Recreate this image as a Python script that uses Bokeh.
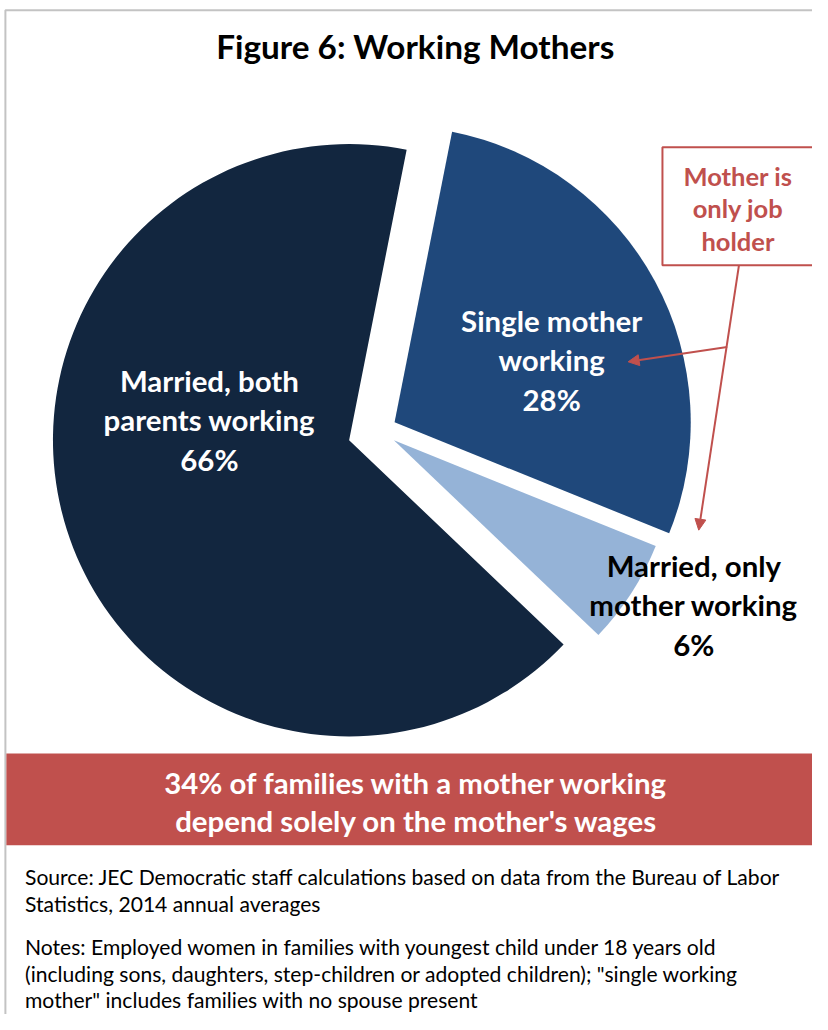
import numpy as np
from bokeh.plotting import figure
from bokeh.models import Range1d, Arrow, NormalHead
from bokeh.embed import file_html
from bokeh.resources import INLINE
from bokeh.core.properties import value

# ---------------- data ----------------
categories = ["Single mother working", "Married, only mother working", "Married, both parents working"]
shares = [28, 6, 66]
label_lines = [["Single mother", "working", "28%"],
               ["Married, only", "mother working", "6%"],
               ["Married, both", "parents working", "66%"]]
title_text = "Figure 6: Working Mothers"
callout_lines = ["Mother is", "only job", "holder"]
banner_lines = ["34% of families with a mother working", "depend solely on the mother's wages"]
note_lines = ["Source: JEC Democratic staff calculations based on data from the Bureau of Labor",
              "Statistics, 2014 annual averages",
              "Notes: Employed women in families with youngest child under 18 years old",
              "(including sons, daughters, step-children or adopted children); \"single working",
              "mother\" includes families with no spouse present"]

# ---------------- styles / layout ----------------
W, H = 812, 1014
REF_W, REF_H = 828, 1030
SX, SY = W / REF_W, H / REF_H
FONT = "Lato"
slice_colors = ["#1f487b", "#95b3d7", "#12263f"]
label_colors = ["#ffffff", "#000000", "#ffffff"]
RED = "#c0504d"
rotation = 11.2          # start angle of first slice, clockwise from 12 o'clock
center_img = (386, 437)
explode = [18, 18, 32]
radii = [302, 288, 302]
label_centers = [(562, 365), (707, 614), (213, 426)]
label_step = 40


def X(xi):
    return xi * SX


def Y(yi):
    return H - yi * SY


def fs(px):
    return "%.1fpx" % (px * SX)


p = figure(width=W, height=H, output_backend="svg", toolbar_location=None,
           x_range=Range1d(0, W), y_range=Range1d(0, H), min_border=0)
p.axis.visible = False
p.grid.visible = False
p.outline_line_color = None
p.background_fill_color = "white"
p.border_fill_color = "white"

# frame
p.line([X(5), X(5), X(840)], [Y(1040), Y(10), Y(10)], line_color="#c3c3c3", line_width=2)

# pie
total = float(sum(shares))
cum = np.cumsum([0] + shares)
for i, s in enumerate(shares):
    t1 = rotation + 360.0 * cum[i] / total
    t2 = rotation + 360.0 * cum[i + 1] / total
    tm = np.radians((t1 + t2) / 2)
    dx, dy = np.sin(tm), np.cos(tm)  # direction in y-up coords
    cx = X(center_img[0]) + explode[i] * SX * dx
    cy = Y(center_img[1]) + explode[i] * SY * dy
    p.wedge(x=[cx], y=[cy], radius=radii[i] * SX,
            start_angle=np.radians(90 - t2), end_angle=np.radians(90 - t1),
            fill_color=slice_colors[i], line_color=None)

# slice labels
for i, lines in enumerate(label_lines):
    lx, ly = label_centers[i]
    for j, t in enumerate(lines):
        p.text(x=[X(lx)], y=[Y(ly + (j - 1) * label_step)], text=[t],
               text_font=value(FONT), text_font_style="bold", text_font_size=fs(30),
               text_color=label_colors[i], text_align="center", text_baseline="middle")

# title
p.text(x=[X(423)], y=[Y(46)], text=[title_text], text_font=value(FONT),
       text_font_style="bold", text_font_size=fs(34), text_color="#000000",
       text_align="center", text_baseline="middle")

# callout box
p.quad(left=[X(675)], right=[X(845)], top=[Y(149)], bottom=[Y(269)],
       fill_color="white", line_color=RED, line_width=2)
for j, t in enumerate(callout_lines):
    p.text(x=[X(752)], y=[Y(178 + j * 33)], text=[t], text_font=value(FONT),
           text_font_style="bold", text_font_size=fs(26), text_color=RED,
           text_align="center", text_baseline="middle")

# arrows
p.add_layout(Arrow(end=NormalHead(size=11, fill_color=RED, line_color=RED),
                   x_start=X(753), y_start=Y(269), x_end=X(712), y_end=Y(538),
                   line_color=RED, line_width=2))
p.add_layout(Arrow(end=NormalHead(size=11, fill_color=RED, line_color=RED),
                   x_start=X(741), y_start=Y(352), x_end=X(640), y_end=Y(367),
                   line_color=RED, line_width=2))

# banner
p.quad(left=[X(6)], right=[X(845)], top=[Y(765)], bottom=[Y(858)],
       fill_color=RED, line_color=None)
for j, t in enumerate(banner_lines):
    p.text(x=[X(424)], y=[Y(794 + j * 39)], text=[t], text_font=value(FONT),
           text_font_style="bold", text_font_size=fs(30), text_color="#ffffff",
           text_align="center", text_baseline="middle")

# notes
note_y = [890, 917, 961, 988, 1015]
for t, yy in zip(note_lines, note_y):
    p.text(x=[X(25)], y=[Y(yy)], text=[t], text_font=value(FONT),
           text_font_size=fs(21.5), text_color="#000000",
           text_align="left", text_baseline="middle")

open("out.html", "w").write(file_html(p, INLINE))
